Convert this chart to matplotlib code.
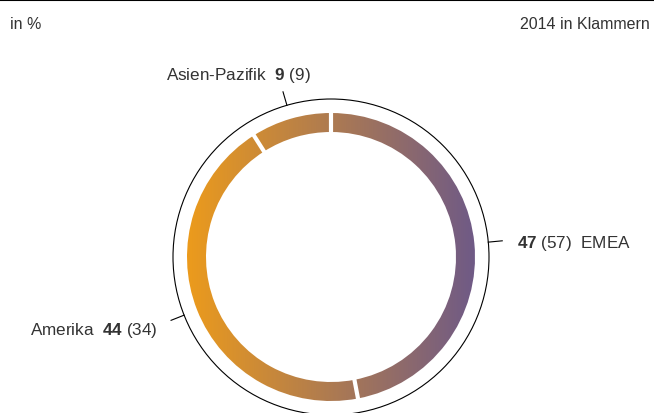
import numpy as np
import matplotlib
matplotlib.use("Agg")
import matplotlib.pyplot as plt
from matplotlib.patches import Wedge, Circle
from matplotlib.colors import LinearSegmentedColormap

plt.rcParams['font.family'] = ['Liberation Sans', 'DejaVu Sans']
plt.rcParams['mathtext.fontset'] = 'custom'
plt.rcParams['mathtext.rm'] = 'Liberation Sans'
plt.rcParams['mathtext.bf'] = 'Liberation Sans:bold'

regions = ['EMEA', 'Amerika', 'Asien-Pazifik']
values_2015 = [47, 44, 9]
values_2014 = [57, 34, 9]
unit_label = 'in %'
note_label = '2014 in Klammern'

W, H = 654, 414
fig = plt.figure(figsize=(W / 100, H / 100), dpi=100)
ax = fig.add_axes([0, 0, 1, 1])
ax.set_xlim(0, W)
ax.set_ylim(H, 0)
ax.set_aspect('equal')
ax.axis('off')

cx, cy = 331, 258
r_out, r_in = 144, 125
r_circ = 158
txt_col = '#333333'

# gradient image clipped to ring wedges
cmap = LinearSegmentedColormap.from_list('g', ['#EC9B1C', '#6F5A86'])
grad = np.tile(np.linspace(0, 1, 256), (4, 1))
total = sum(values_2015)
start = 0.0
bounds = []
for v in values_2015:
    f0, f1 = start / total, (start + v) / total
    t1 = -90 + 360 * f0
    t2 = -90 + 360 * f1
    w = Wedge((cx, cy), r_out, t1, t2, width=r_out - r_in, facecolor='none', edgecolor='none')
    ax.add_patch(w)
    im = ax.imshow(grad, cmap=cmap, extent=(cx - r_out, cx + r_out, cy + r_out, cy - r_out),
                   aspect='auto', interpolation='bilinear', zorder=1)
    im.set_clip_path(w)
    bounds.append(f0)
    start += v

# white gaps at segment boundaries
for f in bounds:
    a = np.deg2rad(-90 + 360 * f)
    ax.plot([cx + (r_in - 3) * np.cos(a), cx + (r_out + 3) * np.cos(a)],
            [cy + (r_in - 3) * np.sin(a), cy + (r_out + 3) * np.sin(a)],
            color='white', lw=3.0, solid_capstyle='butt', zorder=3)

ax.add_patch(Circle((cx, cy), r_circ, fill=False, edgecolor='black', lw=0.8, zorder=2))

# leader ticks and labels
start = 0.0
mids = []
for v in values_2015:
    mids.append((start + v / 2) / total)
    start += v

label_pos = {
    'EMEA': (517, 248, 'left'),
    'Amerika': (158, 335, 'right'),
    'Asien-Pazifik': (238, 80, 'center'),
}
for name, v15, v14, m in zip(regions, values_2015, values_2014, mids):
    a = np.deg2rad(-90 + 360 * m)
    ax.plot([cx + r_circ * np.cos(a), cx + (r_circ + 14) * np.cos(a)],
            [cy + r_circ * np.sin(a), cy + (r_circ + 14) * np.sin(a)],
            color='black', lw=0.8, zorder=2)
    x, y, ha = label_pos[name]
    if ha == 'left':
        s = r'$\mathbf{%d}$ (%d)  %s' % (v15, v14, name)
    else:
        s = r'%s  $\mathbf{%d}$ (%d)' % (name, v15, v14)
    ax.text(x, y, s, ha=ha, va='baseline', fontsize=12.3, color=txt_col)

# header
ax.plot([0, W], [1, 1], color='black', lw=1.5)
ax.text(10, 29, unit_label, ha='left', va='baseline', fontsize=11.5, color=txt_col)
ax.text(650, 29, note_label, ha='right', va='baseline', fontsize=11.5, color=txt_col)

fig.savefig('out.png', dpi=100)
